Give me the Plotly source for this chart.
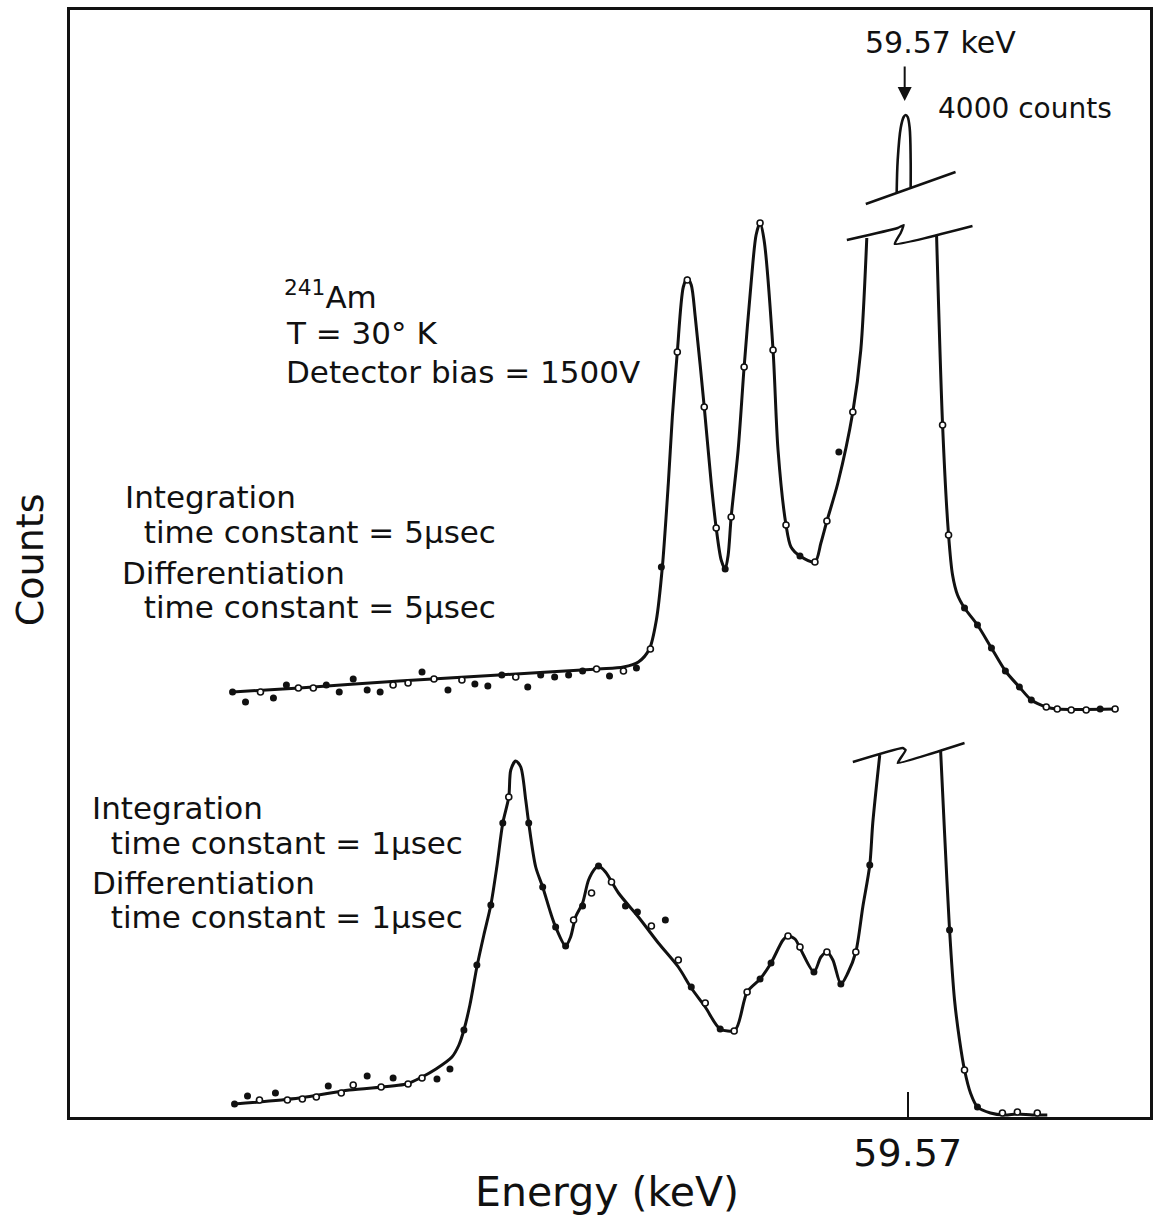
import plotly.graph_objects as go

# ---- 5 usec shaping (upper spectrum), channel vs counts (arb. units) ----
up_left_x = [163, 230, 330, 430, 530, 555, 570, 581, 588, 594, 600, 604, 609, 615, 619,
             623, 627, 636, 643, 648, 653, 657, 660, 663, 670, 676, 683, 688, 692, 696,
             705, 710, 718, 723, 732, 747, 753, 759, 770, 785, 793, 799]
up_left_y = [425, 429, 436, 442, 448, 450, 455, 468, 497, 550, 634, 700, 765, 830, 839,
             832, 800, 710, 634, 589, 557, 548, 562, 600, 667, 750, 834, 882, 894, 877,
             767, 667, 592, 570, 561, 555, 574, 596, 634, 705, 767, 879]
up_right_x = [869, 875, 881, 885, 890, 897, 910, 924, 938, 952, 964, 979, 990, 1048]
up_right_y = [881, 692, 582, 542, 522, 509, 492, 469, 446, 430, 417, 410, 408, 408]
# top of the 59.57 keV line (4000 counts), drawn above the scale break
peak_x = [829, 830, 833, 836, 838, 840, 842, 843, 843]
peak_y = [925, 957, 989, 1000, 1002, 1000, 989, 957, 930]

up_fill_x = [163, 176, 204, 217, 257, 270, 284, 298, 311, 353, 379, 406, 419, 433, 459,
             472, 486, 500, 514, 541, 568, 593, 657, 732, 771, 897, 910, 924, 938, 952,
             964, 1033]
up_fill_y = [425, 415, 419, 432, 432, 425, 438, 427, 425, 445, 427, 433, 431, 442, 430,
             442, 440, 442, 446, 441, 449, 550, 548, 561, 665, 509, 492, 469, 446, 430,
             417, 408]
up_open_x = [191, 229, 244, 324, 339, 365, 393, 447, 528, 555, 582, 609, 619, 636, 648,
             663, 676, 692, 705, 718, 747, 759, 785, 875, 881, 979, 990, 1004, 1019, 1048]
up_open_y = [425, 429, 429, 432, 434, 438, 437, 440, 448, 446, 468, 765, 837, 710, 589,
             600, 750, 894, 767, 592, 555, 596, 705, 692, 582, 410, 408, 407, 407, 408]

# ---- 1 usec shaping (lower spectrum) ----
lo_left_x = [165, 230, 280, 337, 353, 367, 383, 390, 395, 401, 408, 415, 422, 428, 434,
             440, 442, 447, 452, 457, 460, 467, 474, 482, 487, 497, 502, 507, 514, 520,
             527, 530, 537, 550, 570, 590, 610, 623, 637, 652, 667, 679, 692, 703, 715,
             720, 727, 733, 746, 753, 759, 765, 773, 780, 788, 795, 802, 805, 812]
lo_left_y = [13, 19, 27, 33, 40, 48, 60, 72, 87, 112, 150, 182, 212, 250, 294,
             320, 347, 356, 350, 317, 294, 250, 230, 204, 190, 171, 180, 200, 214, 237,
             249, 251, 245, 224, 200, 174, 150, 129, 110, 88, 87, 125, 138, 154, 177,
             181, 178, 167, 145, 160, 165, 157, 133, 144, 165, 210, 252, 294, 362]
lo_right_x = [873, 877, 882, 887, 892, 897, 903, 910, 923, 937, 950, 965, 980]
lo_right_y = [367, 284, 187, 117, 77, 47, 24, 10, 4, 2, 3, 2, 2]

lo_fill_x = [165, 178, 206, 259, 298, 324, 368, 381, 395, 408, 422, 434, 460, 474, 487,
             497, 514, 530, 557, 569, 597, 623, 652, 692, 703, 746, 773, 802, 882, 910]
lo_fill_y = [13, 21, 24, 31, 41, 39, 38, 48, 87, 152, 212, 294, 294, 230, 190,
             171, 211, 251, 211, 205, 197, 130, 88, 138, 154, 145, 133, 252, 187, 10]
lo_open_x = [190, 218, 233, 247, 272, 284, 312, 339, 353, 440, 505, 523, 543, 583, 610,
             637, 666, 679, 720, 732, 759, 788, 897, 935, 950, 970]
lo_open_y = [17, 17, 18, 20, 24, 32, 30, 33, 39, 320, 197, 224, 235, 191, 157,
             114, 86, 125, 181, 170, 165, 165, 47, 4, 5, 4]

# ---- scale-break marks ----
brk_top_x = [798, 888]
brk_top_y = [913, 945]
brk_up_x = [779, 830, 836, 833, 827, 905]
brk_up_y = [877, 889, 892, 884, 873, 891]
brk_lo_x = [785, 835, 838, 833, 830, 897]
brk_lo_y = [355, 369, 367, 359, 354, 374]

tick_vals = [840]
tick_text = ["59.57"]

FONT = "DejaVu Sans"
INK = "#111111"

fig = go.Figure()


def curve(x, y, width=3.0, smooth=0.8):
    fig.add_trace(go.Scatter(x=x, y=y, mode="lines",
                             line=dict(color=INK, width=width, shape="spline", smoothing=smooth),
                             hoverinfo="skip", showlegend=False))


def seg(x, y, width=2.4):
    fig.add_trace(go.Scatter(x=x, y=y, mode="lines",
                             line=dict(color=INK, width=width, shape="spline", smoothing=0.4),
                             hoverinfo="skip", showlegend=False))


def dots(x, y, filled):
    if filled:
        m = dict(symbol="circle", size=7, color=INK, line=dict(width=0))
    else:
        m = dict(symbol="circle", size=6, color="white", line=dict(color=INK, width=1.6))
    fig.add_trace(go.Scatter(x=x, y=y, mode="markers", marker=m,
                             hoverinfo="skip", showlegend=False))


curve(up_left_x, up_left_y)
curve(up_right_x, up_right_y)
curve(peak_x, peak_y, width=2.6, smooth=1.0)
curve(lo_left_x, lo_left_y)
curve(lo_right_x, lo_right_y)
seg(brk_top_x, brk_top_y)
seg(brk_up_x, brk_up_y)
seg(brk_lo_x, brk_lo_y)
dots(up_fill_x, up_fill_y, True)
dots(up_open_x, up_open_y, False)
dots(lo_fill_x, lo_fill_y, True)
dots(lo_open_x, lo_open_y, False)

notes = [
    ("<sup>241</sup>Am", 213, 822),
    ("T = 30° K", 215, 784),
    ("Detector bias = 1500V", 215, 745),
    ("Integration", 53, 620),
    (" time constant = 5µsec", 62, 585),
    ("Differentiation", 50, 544),
    (" time constant = 5µsec", 62, 510),
    ("Integration", 20, 309),
    (" time constant = 1µsec", 29, 274),
    ("Differentiation", 20, 234),
    (" time constant = 1µsec", 29, 200),
]
for text, x, y in notes:
    fig.add_annotation(x=x, y=y, text=text, showarrow=False, xanchor="left", yanchor="middle",
                       font=dict(family=FONT, size=31, color=INK))

fig.add_annotation(x=873, y=1075, text="59.57 keV", showarrow=False,
                   font=dict(family=FONT, size=30, color=INK))
fig.add_annotation(x=868, y=1009, text="4000 counts", showarrow=False, xanchor="left",
                   font=dict(family=FONT, size=28, color=INK))
fig.add_annotation(x=837, y=1016, ax=837, ay=1052, axref="x", ayref="y", text="",
                   showarrow=True, arrowhead=2, arrowsize=1.4, arrowwidth=2, arrowcolor=INK)

# axis titles, placed relative to the plotting area
fig.add_annotation(xref="paper", yref="paper", x=0.497, y=-0.068, text="Energy (keV)",
                   xanchor="center", yanchor="middle",
                   showarrow=False, font=dict(family=FONT, size=41, color=INK))
fig.add_annotation(xref="paper", yref="paper", x=-0.037, y=0.503, text="Counts",
                   xanchor="center", yanchor="middle",
                   showarrow=False, textangle=-90, font=dict(family=FONT, size=38, color=INK))

fig.update_layout(
    width=1155, height=1221,
    margin=dict(l=70, r=2, t=10, b=104),
    paper_bgcolor="white", plot_bgcolor="white",
    showlegend=False,
)
fig.update_xaxes(range=[0, 1083], showgrid=False, zeroline=False,
                 showline=True, linewidth=3, linecolor=INK, mirror=True,
                 ticks="inside", ticklen=25, tickwidth=2, tickcolor=INK,
                 tickvals=tick_vals, ticktext=tick_text, ticklabelstandoff=0,
                 tickfont=dict(family=FONT, size=38, color=INK))
fig.update_yaxes(range=[0, 1107], showgrid=False, zeroline=False,
                 showline=True, linewidth=3, linecolor=INK, mirror=True,
                 showticklabels=False, ticks="")

fig.write_html("out.html")
